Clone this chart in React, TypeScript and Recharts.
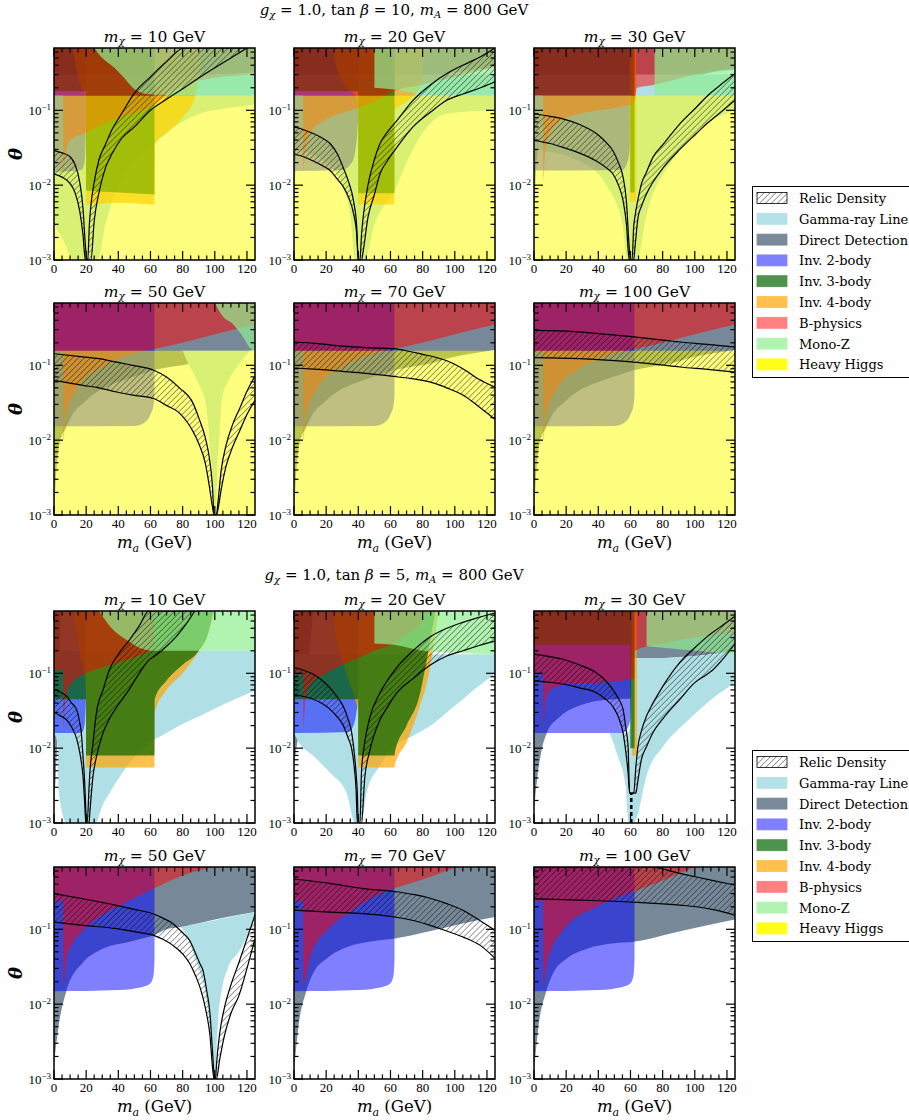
import React from 'react';
import { ComposedChart, Area, XAxis, YAxis, ReferenceArea, ReferenceLine } from 'recharts';

type Row = number[];

const FONT = "'DejaVu Serif', serif";
const TICK_FONT = "'Liberation Serif', 'DejaVu Serif', serif";
const Y_MIN = 0.001;
const Y_MAX = 0.68;
const X_MAX = 125;

const X_TICKS = [0, 5, 10, 15, 20, 25, 30, 35, 40, 45, 50, 55, 60, 65, 70, 75, 80, 85, 90, 95, 100, 105, 110, 115, 120];
const Y_TICKS = [
  0.001, 0.002, 0.003, 0.004, 0.005, 0.006, 0.007, 0.008, 0.009,
  0.01, 0.02, 0.03, 0.04, 0.05, 0.06, 0.07, 0.08, 0.09,
  0.1, 0.2, 0.3, 0.4, 0.5, 0.6,
];
const M_CHI = [10, 20, 30, 50, 70, 100];

const LEGEND_NAMES = ['Relic Density', 'Gamma-ray Line', 'Direct Detection', 'Inv. 2-body', 'Inv. 3-body', 'Inv. 4-body', 'B-physics', 'Mono-Z', 'Heavy Higgs'];
const LEGEND_SWATCH = ['hatch', '#b4e2e8', '#7a8a9a', '#8080ff', '#4d934d', '#ffc04d', '#ff8080', '#b1f3b1', '#ffff1a'];

// ---------------- tan beta = 10 ----------------
const HH_T = [[0, 0.001, 0.157], [125, 0.001, 0.157]];

const T1_GAMMA = [[0, 0.003, 0.3], [6, 0.0018, 0.3], [12, 0.001, 0.3], [27, 0.001, 0.3], [32, 0.003, 0.3], [40, 0.01, 0.3], [50, 0.02, 0.3], [62, 0.035, 0.3], [75, 0.06, 0.3], [90, 0.09, 0.3], [105, 0.105, 0.3], [125, 0.12, 0.3]];
const T1_DD = [[0, 0.003], [1, 0.02], [3, 0.08], [6, 0.15], [10, 0.2], [30, 0.24], [60, 0.26], [90, 0.29], [125, 0.32]];
const T1_INV2 = [[0, 0.015], [17, 0.016], [19, 0.02], [19.8, 0.05]];
const T1_INV4 = [[12, 0.68], [14, 0.35], [17, 0.2], [19.9, 0.16], [20, 0.0055], [40, 0.0058], [62.5, 0.0055], [62.6, 0.035], [70, 0.05], [80, 0.08], [88, 0.16], [92, 0.68]];
const T1_INV3 = [[0, 0.18], [19.9, 0.18], [20, 0.0085], [40, 0.008], [62.5, 0.0075]];
const T1_BPHYS = [[0, 0.16], [5.5, 0.16], [6, 0.016], [7, 0.025], [10, 0.04], [20, 0.05], [30, 0.065], [45, 0.085], [55, 0.1], [62, 0.12], [70, 0.16], [90, 0.25], [125, 0.3]];
const T1_MONOZ = [[25, 0.68], [30, 0.5], [37, 0.38], [43, 0.28], [49, 0.2], [57, 0.165], [70, 0.16], [125, 0.16]];
const T1_RELIC = [
  [0, 0.0142, 0.029], [5, 0.0128, 0.027], [10, 0.0105, 0.024], [13, 0.008, 0.019], [16, 0.0045, 0.011], [18, 0.0022, 0.005], [19.5, 0.001, 0.0016], [20.5, 0.001, 0.001],
  [21, 0.001, 0.001], [22, 0.001, 0.003], [23, 0.001, 0.0055], [25, 0.0033, 0.011], [28, 0.008, 0.022], [32, 0.017, 0.035], [36, 0.026, 0.055], [42, 0.042, 0.09], [50, 0.06, 0.17], [60, 0.1, 0.28], [70, 0.14, 0.45], [81, 0.2, 0.68], [90, 0.27, 0.68], [100, 0.37, 0.68], [110, 0.5, 0.68], [120, 0.68, 0.68],
];

const T2_GAMMA = [[0, 0.03, 0.3], [20, 0.02, 0.3], [30, 0.01, 0.3], [35, 0.004, 0.3], [38, 0.001, 0.3], [44, 0.001, 0.3], [50, 0.003, 0.3], [55, 0.005, 0.3], [62, 0.008, 0.3], [70, 0.02, 0.3], [80, 0.05, 0.3], [95, 0.09, 0.3], [125, 0.1, 0.3]];
const T2_DD = [[0, 0.005], [1, 0.02], [3, 0.06], [6, 0.12], [12, 0.2], [30, 0.23], [62, 0.25], [90, 0.3], [125, 0.38]];
const T2_INV2 = [[0, 0.0155], [30, 0.016], [36, 0.02], [39, 0.04], [40, 0.08]];
const T2_INV4 = [[24, 0.68], [26.5, 0.38], [32.8, 0.2], [39, 0.15], [39.9, 0.1], [40, 0.0055], [62.5, 0.0055], [62.6, 0.1], [70, 0.13], [78, 0.2], [82, 0.68]];
const T2_INV3 = [[0, 0.18], [39.9, 0.18], [40, 0.0078], [62.5, 0.0078]];
const T2_BPHYS = [[0, 0.16], [5.5, 0.16], [6, 0.016], [7, 0.03], [10, 0.05], [20, 0.075], [35, 0.1], [50, 0.13], [62, 0.18], [80, 0.22], [100, 0.28], [125, 0.38]];
const T2_MONOZ = [[50, 0.2], [62, 0.19], [75, 0.17], [90, 0.16], [125, 0.16]];
const T2_RELIC = [
  [0, 0.026, 0.06], [6, 0.024, 0.055], [12, 0.021, 0.049], [18, 0.018, 0.042], [22.4, 0.0157, 0.036], [27, 0.012, 0.026], [30.7, 0.0095, 0.017], [34, 0.0068, 0.011], [37, 0.0042, 0.0062], [39, 0.0022, 0.0028], [40, 0.001, 0.001],
  [41, 0.001, 0.001], [42, 0.001, 0.0022], [43, 0.0013, 0.0037], [46, 0.0037, 0.01], [50, 0.0075, 0.022], [53.5, 0.0142, 0.036], [58, 0.021, 0.051], [64, 0.032, 0.073], [74, 0.06, 0.136], [85, 0.095, 0.22], [95, 0.136, 0.31], [105, 0.165, 0.4], [116, 0.2, 0.52], [125, 0.24, 0.68],
];

const T3_GAMMA = [[0, 0.03, 0.3], [30, 0.02, 0.3], [45, 0.01, 0.3], [55, 0.003, 0.3], [58, 0.001, 0.3], [64, 0.001, 0.3], [70, 0.004, 0.3], [85, 0.02, 0.3], [100, 0.05, 0.3], [125, 0.1, 0.3]];
const T3_DD = [[0, 0.002], [1, 0.012], [3, 0.04], [6, 0.1], [10, 0.15], [30, 0.18], [62.5, 0.2], [62.6, 0.16], [85, 0.2], [100, 0.28], [125, 0.35]];
const T3_INV2 = [[0, 0.0157], [55, 0.016], [58, 0.02], [60, 0.04], [60.5, 0.08]];
const T3_INV4 = [[59.5, 0.006], [63.5, 0.006]];
const T3_INV3 = [[0, 0.16], [59.9, 0.16], [60, 0.008], [62.5, 0.008]];
const T3_BPHYS = [[0, 0.16], [5.5, 0.16], [6, 0.012], [7, 0.03], [10, 0.05], [20, 0.08], [40, 0.1], [60, 0.12], [62.5, 0.13], [64, 0.2], [75, 0.22], [100, 0.3], [125, 0.38]];
const T3_MONOZ = [[75, 0.16], [125, 0.16]];
const T3_RELIC = [
  [0, 0.0397, 0.09], [10, 0.036, 0.083], [18, 0.032, 0.077], [28, 0.027, 0.065], [38.8, 0.021, 0.049], [45, 0.017, 0.037], [49, 0.0142, 0.029], [52.5, 0.01, 0.02], [55.4, 0.0062, 0.0128], [57.5, 0.003, 0.006], [59.2, 0.001, 0.0015], [60, 0.001, 0.001],
  [61, 0.001, 0.001], [62, 0.001, 0.0028], [62.7, 0.0014, 0.0037], [64.7, 0.0037, 0.0065], [66.8, 0.0052, 0.0104], [70, 0.0077, 0.015], [74, 0.011, 0.0237], [80.3, 0.017, 0.035], [90.7, 0.03, 0.066], [101, 0.049, 0.11], [107, 0.065, 0.15], [115, 0.09, 0.21], [125, 0.136, 0.31],
];

const T4_GAMMA = [
  [80, 0.157, 0.157], [84, 0.1, 0.157], [88, 0.07, 0.157], [91, 0.05, 0.157], [94, 0.034, 0.157], [96, 0.015, 0.157], [97, 0.0074, 0.157], [98.5, 0.003, 0.157], [99.5, 0.001, 0.157],
  [100.5, 0.001, 0.157], [101.5, 0.004, 0.157], [103, 0.012, 0.157], [104.2, 0.034, 0.157], [108, 0.06, 0.157], [113, 0.09, 0.157], [118, 0.125, 0.157], [122, 0.157, 0.157],
];
const T456_DD = [[0, 0.001], [1.5, 0.004], [3.5, 0.009], [7.7, 0.015], [12, 0.023], [18, 0.031], [28, 0.046], [40, 0.06], [49, 0.07], [62, 0.086], [72, 0.095], [80, 0.1], [100, 0.13], [125, 0.16]];
const T456_INV2 = [[0, 0.0153], [50, 0.0155], [56, 0.017], [60, 0.022], [62, 0.03], [62.5, 0.04]];
const T456_BPHYS = [[0, 0.15], [5.5, 0.15], [6, 0.01], [7, 0.02], [8, 0.025], [12, 0.04], [18, 0.063], [28, 0.09], [39, 0.12], [53, 0.15], [62, 0.165], [80, 0.2], [100, 0.26], [125, 0.35]];
const T4_MONOZ = [[100, 0.68], [105, 0.45], [111, 0.36], [117, 0.25], [122, 0.17], [125, 0.157]];
const T4_RELIC = [
  [0, 0.063, 0.143], [18, 0.054, 0.13], [28, 0.05, 0.123], [39, 0.044, 0.11], [49, 0.04, 0.1], [62, 0.036, 0.086], [70, 0.029, 0.07], [78, 0.023, 0.05], [86.5, 0.013, 0.031], [90, 0.009, 0.02], [94, 0.005, 0.011], [96.5, 0.0025, 0.006], [98.5, 0.0013, 0.0025], [99.6, 0.001, 0.001],
  [101, 0.001, 0.001], [102, 0.0012, 0.0015], [104, 0.0022, 0.004], [107, 0.0045, 0.0085], [111, 0.008, 0.016], [115.6, 0.0135, 0.027], [120, 0.022, 0.045], [125, 0.034, 0.072],
];
const T5_RELIC = [[0, 0.092, 0.205], [15, 0.088, 0.195], [30, 0.083, 0.18], [45, 0.078, 0.172], [62, 0.071, 0.167], [72, 0.067, 0.153], [80, 0.063, 0.14], [88, 0.057, 0.128], [95, 0.05, 0.115], [105, 0.04, 0.09], [115, 0.028, 0.065], [125, 0.019, 0.051]];
const T6_RELIC = [[0, 0.127, 0.293], [28, 0.123, 0.28], [45, 0.117, 0.26], [62, 0.11, 0.24], [76, 0.103, 0.222], [90.7, 0.095, 0.205], [108, 0.088, 0.19], [125, 0.081, 0.176]];

// ---------------- tan beta = 5 ----------------
const B1_GAMMA = [[0, 0.016, 0.2], [2, 0.012, 0.2], [3, 0.0025, 0.2], [8, 0.001, 0.2], [26, 0.001, 0.2], [30, 0.0017, 0.2], [35, 0.0026, 0.2], [42, 0.0045, 0.2], [49, 0.0071, 0.2], [60, 0.012, 0.2], [70, 0.016, 0.2], [80, 0.021, 0.2], [91, 0.027, 0.2], [105, 0.038, 0.2], [125, 0.059, 0.2]];
const B1_DD = [[0, 0.0016], [1, 0.004], [2, 0.012], [3, 0.04], [4, 0.68]];
const B1_INV2 = [[0, 0.016], [17, 0.016], [19, 0.02], [19.8, 0.04]];
const B1_INV4 = [[12, 0.68], [14, 0.35], [17, 0.15], [19.9, 0.06], [20, 0.0055], [62.5, 0.0055], [62.6, 0.03], [70, 0.06], [80, 0.1], [88, 0.17], [95, 0.3], [100, 0.68]];
const B1_INV3 = [[0, 0.045], [19.9, 0.045], [20, 0.008], [62.5, 0.008], [62.6, 0.045], [70, 0.08], [80, 0.13], [90, 0.2], [96, 0.35], [99, 0.68]];
const B1_BPHYS = [[0, 0.11], [5.5, 0.11], [6, 0.02], [7, 0.045], [10, 0.07], [20, 0.1], [30, 0.12], [45, 0.15], [55, 0.18], [62, 0.22], [62.5, 0.25]];
const B1_MONOZ = [[28, 0.68], [35, 0.42], [45, 0.28], [53, 0.22], [62, 0.2], [125, 0.2]];
const B1_RELIC = [
  [0, 0.03, 0.061], [4, 0.027, 0.056], [7.7, 0.024, 0.0497], [11, 0.019, 0.04], [14, 0.0135, 0.033], [16, 0.0088, 0.022], [17, 0.0065, 0.016], [18, 0.0043, 0.008], [19, 0.002, 0.0038], [19.8, 0.001, 0.0015], [20.2, 0.001, 0.001],
  [20.6, 0.001, 0.001], [21.8, 0.001, 0.003], [22.2, 0.0013, 0.0043], [24.3, 0.0043, 0.012], [26.3, 0.0075, 0.029], [30.5, 0.016, 0.06], [34.6, 0.025, 0.113], [40, 0.038, 0.18], [47, 0.062, 0.28], [53, 0.1, 0.43], [59, 0.15, 0.68], [62.7, 0.17, 0.68], [70, 0.23, 0.68], [76, 0.31, 0.68], [82, 0.45, 0.68], [87.6, 0.68, 0.68],
];

const B2_GAMMA = [[0, 0.016, 0.18], [3, 0.012, 0.18], [12, 0.0079, 0.18], [22.4, 0.0047, 0.18], [32.8, 0.0025, 0.18], [38, 0.001, 0.18], [42, 0.001, 0.18], [45, 0.0025, 0.18], [53.5, 0.0058, 0.18], [63, 0.0107, 0.18], [75, 0.015, 0.18], [85, 0.02, 0.18], [95, 0.03, 0.18], [105, 0.045, 0.18], [115, 0.068, 0.18], [125, 0.097, 0.18]];
const B2_DD = [[0, 0.006], [1.5, 0.01], [3, 0.016], [5, 0.04], [8, 0.1], [12, 0.68]];
const B2_INV2 = [[0, 0.016], [34, 0.0165], [37, 0.02], [39.5, 0.04], [40, 0.06]];
const B2_INV4 = [[24, 0.68], [26, 0.3], [30, 0.15], [34, 0.08], [38, 0.045], [39.9, 0.03], [40, 0.0055], [62.5, 0.0055], [62.6, 0.0058], [70, 0.012], [78, 0.035], [84, 0.1], [87, 0.25], [90, 0.68]];
const B2_INV3 = [[0, 0.045], [39.9, 0.045], [40, 0.008], [62.5, 0.008], [62.6, 0.0085], [70, 0.02], [78, 0.05], [82, 0.13], [85, 0.3], [88, 0.68]];
const B2_BPHYS = [[0, 0.1], [5.5, 0.1], [6, 0.02], [7, 0.045], [10, 0.07], [20, 0.1], [30, 0.13], [40, 0.16], [50, 0.2], [62, 0.25], [72, 0.35], [80, 0.5], [82, 0.68]];
const B2_MONOZ = [[50, 0.25], [62, 0.24], [80, 0.2], [125, 0.18]];
const B2_RELIC = [
  [0, 0.052, 0.119], [6, 0.049, 0.11], [12, 0.045, 0.097], [17, 0.04, 0.082], [22.4, 0.033, 0.064], [27, 0.026, 0.048], [30.7, 0.02, 0.036], [33.5, 0.014, 0.025], [35.9, 0.0097, 0.016], [37.5, 0.0055, 0.0085], [38.6, 0.0028, 0.0047], [39.4, 0.001, 0.0025], [40, 0.001, 0.001],
  [41, 0.001, 0.001], [42, 0.001, 0.005], [44, 0.004, 0.012], [47, 0.009, 0.025], [53.5, 0.024, 0.055], [58, 0.035, 0.08], [64, 0.055, 0.12], [74, 0.085, 0.2], [85, 0.13, 0.31], [95, 0.17, 0.4], [105, 0.2, 0.48], [115, 0.235, 0.56], [125, 0.27, 0.64],
];

const B3_GAMMA = [
  [47, 0.016, 0.016], [52, 0.008, 0.016], [57, 0.003, 0.016], [59, 0.001, 0.017], [60, 0.001, 0.03], [61, 0.001, 0.16], [62, 0.001, 0.16], [64, 0.0012, 0.16],
  [70, 0.0043, 0.16], [80, 0.0104, 0.16], [90, 0.018, 0.165], [101, 0.03, 0.17], [112, 0.048, 0.18], [125, 0.075, 0.2],
];
const B3_DD = [[0, 0.0015], [2, 0.004], [5, 0.01], [8, 0.016], [15, 0.025], [28, 0.037], [49, 0.045], [62.5, 0.046], [62.6, 0.16], [80, 0.16], [100, 0.17], [125, 0.2]];
const B3_INV2 = [[0, 0.016], [55, 0.016], [58.5, 0.019], [60, 0.025], [60.5, 0.04]];
const B3_INV4 = [[61, 0.008], [64, 0.008]];
const B3_INV3 = [[0, 0.24], [59.9, 0.24], [60, 0.01], [62.5, 0.01]];
const B3_BPHYS = [[0, 0.1], [5.5, 0.1], [6, 0.02], [7, 0.04], [10, 0.06], [20, 0.072], [40, 0.075], [62.5, 0.085], [62.6, 0.2], [80, 0.25], [100, 0.3], [125, 0.35]];
const B3_MONOZ = [[70, 0.23], [90, 0.21], [125, 0.18]];
const B3_RELIC = [
  [0, 0.079, 0.18], [9, 0.076, 0.168], [18, 0.072, 0.154], [28, 0.064, 0.13], [38.8, 0.055, 0.102], [44, 0.046, 0.082], [49, 0.036, 0.061], [52.5, 0.026, 0.046], [55.4, 0.016, 0.033], [57.2, 0.0085, 0.018], [58.5, 0.0047, 0.0107], [59.5, 0.0025, 0.0025],
  [62, 0.0025, 0.0025], [63.3, 0.0025, 0.0055], [64.7, 0.0038, 0.0107], [66.8, 0.0071, 0.017], [70, 0.0105, 0.027], [74, 0.0162, 0.04], [80.3, 0.025, 0.068], [90.7, 0.045, 0.14], [100, 0.075, 0.22], [107, 0.095, 0.3], [111, 0.11, 0.35], [118, 0.16, 0.45], [125, 0.25, 0.58],
];
const B3_DASH = [[60.5, 0.001], [60.5, 0.0025]];

const B4_GAMMA = [
  [79, 0.107, 0.107], [82, 0.085, 0.11], [85, 0.06, 0.115], [90, 0.03, 0.12], [94.8, 0.0119, 0.125], [97, 0.005, 0.128], [98.6, 0.0023, 0.13], [99.5, 0.001, 0.131],
  [100.5, 0.001, 0.132], [101, 0.0023, 0.133], [102, 0.006, 0.135], [104, 0.014, 0.138], [108, 0.03, 0.143], [115, 0.05, 0.155], [120, 0.08, 0.162], [125, 0.15, 0.17],
];
const B4_DD = [[0, 0.0016], [2.5, 0.0045], [7.7, 0.015], [18, 0.036], [28, 0.052], [49, 0.07], [62, 0.083], [70, 0.1], [79, 0.107], [100, 0.135], [125, 0.17]];
const B456_INV2 = [[0, 0.0149], [40, 0.0155], [55, 0.017], [60, 0.019], [62, 0.025], [62.5, 0.04]];
const B4_BPHYS = [[0, 0.24], [5.5, 0.24], [6, 0.019], [8, 0.043], [18, 0.097], [28, 0.146], [43, 0.22], [62, 0.35], [82, 0.54], [99, 0.68]];
const B4_RELIC = [
  [0, 0.125, 0.3], [18, 0.113, 0.256], [38.8, 0.102, 0.209], [50, 0.093, 0.185], [62, 0.083, 0.16], [68, 0.073, 0.14], [74, 0.061, 0.119], [80, 0.047, 0.09], [84.4, 0.035, 0.071], [88, 0.024, 0.048], [90.7, 0.017, 0.035], [92.7, 0.012, 0.028], [95, 0.0072, 0.015], [97, 0.0038, 0.0075], [98.5, 0.0015, 0.0025], [99.5, 0.001, 0.0012],
  [100.5, 0.001, 0.001], [101, 0.001, 0.0015], [103, 0.0018, 0.004], [106, 0.0038, 0.009], [110, 0.0075, 0.018], [115, 0.013, 0.036], [120, 0.03, 0.075], [125, 0.075, 0.155],
];

const B5_DD = [[0, 0.0012], [2.5, 0.0045], [7.7, 0.015], [12, 0.026], [20, 0.04], [33, 0.058], [50, 0.07], [62, 0.075], [85, 0.095], [105, 0.12], [125, 0.146]];
const B5_BPHYS = [[0, 0.24], [5.5, 0.24], [6, 0.019], [10, 0.043], [22.4, 0.107], [32.8, 0.16], [49.4, 0.27], [62, 0.35], [84.6, 0.5], [101, 0.68]];
const B5_RELIC = [[0, 0.18, 0.47], [22.4, 0.17, 0.41], [43, 0.162, 0.35], [62.4, 0.146, 0.32], [75, 0.13, 0.29], [84.6, 0.113, 0.26], [95, 0.095, 0.22], [105, 0.079, 0.18], [115.8, 0.061, 0.13], [125, 0.041, 0.097]];

const B6_DD = [[0, 0.0012], [2.5, 0.0045], [7.7, 0.015], [12, 0.026], [20, 0.04], [33, 0.055], [50, 0.065], [62, 0.068], [85, 0.088], [105, 0.11], [125, 0.135]];
const B6_BPHYS = [[0, 0.24], [5.5, 0.24], [6, 0.019], [8, 0.035], [18, 0.097], [38.8, 0.2], [50, 0.26], [62, 0.32], [80, 0.45], [100, 0.68]];
const B6_RELIC = [[0, 0.256, 0.68], [28, 0.245, 0.68], [50, 0.237, 0.68], [62, 0.23, 0.68], [72, 0.224, 0.68], [90.7, 0.21, 0.56], [101, 0.2, 0.5], [113, 0.18, 0.44], [125, 0.154, 0.39]];

type PanelCfg = { [k: string]: Row[] | undefined };

const SECTION_TB10: PanelCfg[] = [
  { gamma: T1_GAMMA, dd: T1_DD, inv2: T1_INV2, inv4: T1_INV4, inv3: T1_INV3, bphys: T1_BPHYS, monoz: T1_MONOZ, hh: HH_T, relic: T1_RELIC },
  { gamma: T2_GAMMA, dd: T2_DD, inv2: T2_INV2, inv4: T2_INV4, inv3: T2_INV3, bphys: T2_BPHYS, monoz: T2_MONOZ, hh: HH_T, relic: T2_RELIC },
  { gamma: T3_GAMMA, dd: T3_DD, inv2: T3_INV2, inv4: T3_INV4, inv3: T3_INV3, bphys: T3_BPHYS, monoz: T3_MONOZ, hh: HH_T, relic: T3_RELIC },
  { gamma: T4_GAMMA, dd: T456_DD, inv2: T456_INV2, bphys: T456_BPHYS, monoz: T4_MONOZ, hh: HH_T, relic: T4_RELIC },
  { dd: T456_DD, inv2: T456_INV2, bphys: T456_BPHYS, hh: HH_T, relic: T5_RELIC },
  { dd: T456_DD, inv2: T456_INV2, bphys: T456_BPHYS, hh: HH_T, relic: T6_RELIC },
];
const SECTION_TB5: PanelCfg[] = [
  { gamma: B1_GAMMA, dd: B1_DD, inv2: B1_INV2, inv4: B1_INV4, inv3: B1_INV3, bphys: B1_BPHYS, monoz: B1_MONOZ, relic: B1_RELIC },
  { gamma: B2_GAMMA, dd: B2_DD, inv2: B2_INV2, inv4: B2_INV4, inv3: B2_INV3, bphys: B2_BPHYS, monoz: B2_MONOZ, relic: B2_RELIC },
  { gamma: B3_GAMMA, dd: B3_DD, inv2: B3_INV2, inv4: B3_INV4, inv3: B3_INV3, bphys: B3_BPHYS, monoz: B3_MONOZ, relic: B3_RELIC, dash: B3_DASH },
  { gamma: B4_GAMMA, dd: B4_DD, inv2: B456_INV2, bphys: B4_BPHYS, relic: B4_RELIC },
  { dd: B5_DD, inv2: B456_INV2, bphys: B5_BPHYS, relic: B5_RELIC },
  { dd: B6_DD, inv2: B456_INV2, bphys: B6_BPHYS, relic: B6_RELIC },
];

const LAYER_ORDER = ['dd', 'gamma', 'inv2', 'inv4', 'inv3', 'bphys', 'monoz', 'hh'];
const LAYER_STYLE: { [k: string]: { fill: string; op: number } } = {
  gamma: { fill: '#b0e0e6', op: 1 },
  dd: { fill: '#778899', op: 1 },
  inv2: { fill: '#0000ff', op: 0.5 },
  inv4: { fill: '#ffa500', op: 0.7 },
  inv3: { fill: '#006400', op: 0.7 },
  bphys: { fill: '#ff0000', op: 0.5 },
  monoz: { fill: '#90ee90', op: 0.7 },
  hh: { fill: '#ffff00', op: 0.5 },
};

// layout
const COL_LEFT = [54, 294, 534];
const ROW_TOP = [48, 303, 611, 867];
const PW = 201;
const PH = 212;
const ML = 46;
const MT = 6;
const MR = 8;
const MB = 26;
const PL = ML;
const PR = ML + PW;
const PT = MT;
const PB = MT + PH;

const toData = (rows: Row[]) => rows.map((r) => ({ x: r[0], lo: r[1], hi: r.length > 2 ? r[2] : Y_MAX }));
const rangeKey = (d: any) => [d.lo, d.hi];

function XTick(props: any) {
  const { x, payload } = props;
  const v = payload.value;
  const major = v % 20 === 0;
  const len = major ? 9 : 4.5;
  return (
    <g>
      <line x1={x} x2={x} y1={PB} y2={PB - len} stroke="#000" strokeWidth={1.2} />
      <line x1={x} x2={x} y1={PT} y2={PT + len} stroke="#000" strokeWidth={1.2} />
      {major && (
        <text x={x} y={PB + 13} textAnchor="middle" style={{ fontFamily: TICK_FONT, fontSize: 13 }} fill="#000">
          {v}
        </text>
      )}
    </g>
  );
}

function YTick(props: any) {
  const { y, payload } = props;
  const v = payload.value;
  const e = Math.log10(v);
  const major = Math.abs(e - Math.round(e)) < 1e-6;
  const len = major ? 9 : 4.5;
  return (
    <g>
      <line x1={PL} x2={PL + len} y1={y} y2={y} stroke="#000" strokeWidth={1.2} />
      <line x1={PR - len} x2={PR} y1={y} y2={y} stroke="#000" strokeWidth={1.2} />
      {major && (
        <text x={PL - 3} y={y + 4.5} textAnchor="end" style={{ fontFamily: TICK_FONT, fontSize: 13 }} fill="#000">
          10
          <tspan dy={-5} style={{ fontSize: 9 }}>{'\u2212' + String(-Math.round(e))}</tspan>
        </text>
      )}
    </g>
  );
}

function Panel({ cfg, id, left, top }: { cfg: PanelCfg; id: string; left: number; top: number }) {
  const W = ML + PW + MR;
  const H = MT + PH + MB;
  const dash = cfg.dash;
  return (
    <div style={{ position: 'absolute', left: left - ML, top: top - MT, width: W, height: H }}>
      <ComposedChart width={W} height={H} margin={{ top: MT, right: MR, bottom: 0, left: 0 }}>
        <defs>
          <pattern id={`hatch-${id}`} patternUnits="userSpaceOnUse" width="4.2" height="4.2" patternTransform="rotate(45)">
            <line x1="0" y1="0" x2="0" y2="4.2" stroke="#000" strokeWidth="0.75" />
          </pattern>
        </defs>
        {LAYER_ORDER.filter((k) => cfg[k]).map((k) => (
          <Area
            key={k}
            data={toData(cfg[k] as Row[])}
            dataKey={rangeKey}
            type="monotone"
            stroke="none"
            fill={LAYER_STYLE[k].fill}
            fillOpacity={LAYER_STYLE[k].op}
            isAnimationActive={false}
            dot={false}
            activeDot={false}
          />
        ))}
        <Area
          data={toData(cfg.relic as Row[])}
          dataKey={rangeKey}
          type="monotone"
          stroke="#000"
          strokeWidth={1.2}
          fill={`url(#hatch-${id})`}
          fillOpacity={1}
          isAnimationActive={false}
          dot={false}
          activeDot={false}
        />
        {dash && (
          <ReferenceLine
            segment={[{ x: dash[0][0], y: dash[0][1] }, { x: dash[1][0], y: dash[1][1] }]}
            stroke="#000"
            strokeWidth={2.5}
            strokeDasharray="4 3"
            ifOverflow="visible"
          />
        )}
        <ReferenceArea x1={0} x2={X_MAX} y1={Y_MIN} y2={Y_MAX} fill="none" stroke="#000" strokeWidth={1.5} ifOverflow="visible" />
        <XAxis
          type="number"
          dataKey="x"
          domain={[0, X_MAX]}
          ticks={X_TICKS}
          interval={0}
          height={MB}
          axisLine={false}
          tickLine={false}
          tickSize={0}
          tick={(p: any) => <XTick {...p} />}
          allowDataOverflow
        />
        <YAxis
          type="number"
          scale="log"
          domain={[Y_MIN, Y_MAX]}
          ticks={Y_TICKS}
          interval={0}
          width={ML}
          axisLine={false}
          tickLine={false}
          tickSize={0}
          tick={(p: any) => <YTick {...p} />}
          allowDataOverflow
        />
      </ComposedChart>
    </div>
  );
}

function Legend({ top }: { top: number }) {
  return (
    <g>
      <rect x={752.5} y={top + 0.5} width={170} height={191} fill="#fff" stroke="#000" strokeWidth={1} />
      {LEGEND_NAMES.map((name, i) => {
        const cy = top + 12 + i * 20.8;
        const sw = LEGEND_SWATCH[i];
        return (
          <g key={name}>
            <rect
              x={757}
              y={cy - 5.5}
              width={30}
              height={11}
              fill={sw === 'hatch' ? 'url(#legend-hatch)' : sw}
              stroke={sw === 'hatch' ? '#000' : sw}
              strokeWidth={0.8}
            />
            <text x={799} y={cy + 5} style={{ fontFamily: FONT, fontSize: 13 }} fill="#000">
              {name}
            </text>
          </g>
        );
      })}
    </g>
  );
}

function MainTitle({ y, tanb }: { y: number; tanb: string }) {
  return (
    <text x={394} y={y} textAnchor="middle" style={{ fontFamily: FONT, fontSize: 15 }} fill="#000">
      <tspan fontStyle="italic">g</tspan>
      <tspan fontStyle="italic" style={{ fontSize: 10 }} dy={3}>χ</tspan>
      <tspan dy={-3}>{' = 1.0,  tan '}</tspan>
      <tspan fontStyle="italic">β</tspan>
      <tspan>{` = ${tanb},  `}</tspan>
      <tspan fontStyle="italic">m</tspan>
      <tspan fontStyle="italic" style={{ fontSize: 10 }} dy={3}>A</tspan>
      <tspan dy={-3}>{' = 800 GeV'}</tspan>
    </text>
  );
}

function PanelTitle({ x, y, m }: { x: number; y: number; m: number }) {
  return (
    <text x={x} y={y} textAnchor="middle" style={{ fontFamily: FONT, fontSize: 15.5 }} fill="#000">
      <tspan fontStyle="italic">m</tspan>
      <tspan fontStyle="italic" style={{ fontSize: 10.5 }} dy={3}>χ</tspan>
      <tspan dy={-3}>{` = ${m} GeV`}</tspan>
    </text>
  );
}

function XLabel({ x, y }: { x: number; y: number }) {
  return (
    <text x={x} y={y} textAnchor="middle" style={{ fontFamily: FONT, fontSize: 16.5 }} fill="#000">
      <tspan fontStyle="italic">m</tspan>
      <tspan fontStyle="italic" style={{ fontSize: 11 }} dy={4}>a</tspan>
      <tspan dy={-4}>{' (GeV)'}</tspan>
    </text>
  );
}

export default function App() {
  const sections = [SECTION_TB10, SECTION_TB5];
  const tanbs = ['10', '5'];
  return (
    <div style={{ position: 'absolute', left: 0, top: 0, width: 909, height: 1120, overflow: 'hidden', background: '#fff' }}>
      <svg width={909} height={1120} style={{ position: 'absolute', left: 0, top: 0 }}>
        <defs>
          <pattern id="legend-hatch" patternUnits="userSpaceOnUse" width="4.2" height="4.2" patternTransform="rotate(45)">
            <line x1="0" y1="0" x2="0" y2="4.2" stroke="#000" strokeWidth="0.75" />
          </pattern>
        </defs>
        <MainTitle y={15} tanb={tanbs[0]} />
        <MainTitle y={580} tanb={tanbs[1]} />
        {[0, 1, 2, 3].map((r) =>
          [0, 1, 2].map((c) => (
            <PanelTitle key={`t${r}${c}`} x={COL_LEFT[c] + PW / 2} y={ROW_TOP[r] - 6} m={M_CHI[(r % 2) * 3 + c]} />
          ))
        )}
        {[0, 1, 2, 3].map((r) => (
          <text
            key={`yl${r}`}
            x={0}
            y={0}
            transform={`translate(22, ${ROW_TOP[r] + PH / 2}) rotate(-90)`}
            textAnchor="middle"
            style={{ fontFamily: FONT, fontSize: 18, fontStyle: 'italic', fontWeight: 'bold' }}
            fill="#000"
          >
            θ
          </text>
        ))}
        {[1, 3].map((r) =>
          [0, 1, 2].map((c) => <XLabel key={`xl${r}${c}`} x={COL_LEFT[c] + PW / 2} y={ROW_TOP[r] + PH + 33} />)
        )}
        <Legend top={186} />
        <Legend top={750} />
      </svg>
      {sections.map((sec, s) =>
        sec.map((cfg, i) => {
          const row = s * 2 + Math.floor(i / 3);
          const col = i % 3;
          return <Panel key={`p${s}${i}`} cfg={cfg} id={`p${s}${i}`} left={COL_LEFT[col]} top={ROW_TOP[row]} />;
        })
      )}
    </div>
  );
}
